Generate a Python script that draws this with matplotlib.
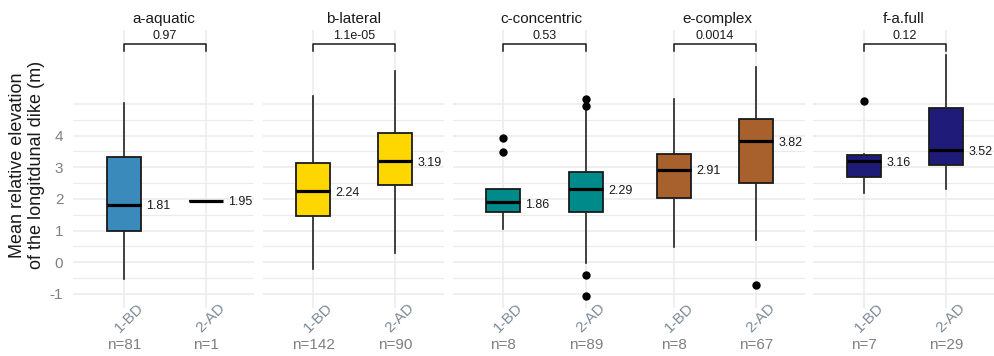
import matplotlib
matplotlib.use('Agg')
import matplotlib.pyplot as plt
import matplotlib.transforms as mtransforms

plt.rcParams['font.family'] = ['Liberation Sans', 'DejaVu Sans']

# data
panels = ['a-aquatic', 'b-lateral', 'c-concentric', 'e-complex', 'f-a.full']
groups = ['1-BD', '2-AD']
p_values = ['0.97', '1.1e-05', '0.53', '0.0014', '0.12']
n_counts = [[81, 1], [142, 90], [8, 89], [8, 67], [7, 29]]
colors = ['#3a8bbb', '#ffd700', '#008b8b', '#a8602c', '#1f1b78']

whislo = [[-0.54, 1.95], [-0.22, 0.28], [1.04, -0.03], [0.49, 0.70], [2.20, 2.30]]
q1 = [[0.99, 1.95], [1.47, 2.43], [1.60, 1.60], [2.04, 2.51], [2.70, 3.06]]
med = [[1.81, 1.95], [2.25, 3.19], [1.89, 2.32], [2.91, 3.83], [3.20, 3.55]]
q3 = [[3.33, 1.95], [3.13, 4.07], [2.30, 2.85], [3.42, 4.53], [3.38, 4.88]]
whishi = [[5.02, 1.95], [5.26, 6.04], [2.30, 4.80], [5.16, 6.18], [3.41, 6.54]]
fliers = [[[], []], [[], []], [[3.93, 3.48], [5.15, 4.92, -0.41, -1.06]],
          [[], [-0.72]], [[5.08], []]]
mean_labels = [[1.81, 1.95], [2.24, 3.19], [1.86, 2.29], [2.91, 3.82], [3.16, 3.52]]

# layout in pixels: (left, right, x of 1-BD, x of 2-AD)
W, H = 994, 356
panel_px = [(73, 254, 124, 206), (263, 444, 313, 395), (453, 630, 503, 586),
            (630, 805, 674, 756), (813, 994, 864, 946)]
top_px, bot_px = 30, 308
ylim = (-1.443, 7.335)
bracket_y, bracket_tick = 6.89, 0.22

fig = plt.figure(figsize=(W / 100, H / 100), dpi=100)

for i, name in enumerate(panels):
    L, R, x1, x2 = panel_px[i]
    ax = fig.add_axes([L / W, 1 - bot_px / H, (R - L) / W, (bot_px - top_px) / H])
    ax.patch.set_visible(False)
    s = x2 - x1
    ax.set_xlim(1 - (x1 - L) / s, 2 + (R - x2) / s)
    ax.set_ylim(*ylim)

    for sp in ax.spines.values():
        sp.set_visible(False)

    # grid
    for x in [1, 2]:
        ax.axvline(x, color='#ebebeb', lw=1.1, zorder=0)
    for k in range(-2, 11):
        y = k / 2
        ax.axhline(y, color='#ebebeb', lw=1.1 if k % 2 == 0 else 0.8, zorder=0)

    stats = []
    for j in range(2):
        stats.append(dict(med=med[i][j], q1=q1[i][j], q3=q3[i][j],
                          whislo=whislo[i][j], whishi=whishi[i][j],
                          fliers=fliers[i][j]))
    ax.bxp(stats, positions=[1, 2], widths=0.42, showcaps=False,
           patch_artist=True,
           boxprops=dict(facecolor=colors[i], edgecolor='#1a1a1a', lw=1.3),
           medianprops=dict(color='black', lw=2.3),
           whiskerprops=dict(color='#222222', lw=1.2),
           flierprops=dict(marker='o', markerfacecolor='black',
                           markeredgecolor='black', markersize=5))

    for j in range(2):
        ax.text(j + 1 + 0.27, mean_labels[i][j] - 0.04, '%.2f' % mean_labels[i][j],
                ha='left', va='center', fontsize=9, color='#1a1a1a',
                clip_on=False, zorder=5)

    # significance bracket
    ax.plot([1, 1, 2, 2], [bracket_y - bracket_tick, bracket_y, bracket_y,
                           bracket_y - bracket_tick], color='#1a1a1a', lw=1.1)
    ax.text(1.5, bracket_y + 0.06, p_values[i], ha='center', va='bottom',
            fontsize=9, color='#1a1a1a')

    ax.text(0.5, 1.04, name, transform=ax.transAxes, ha='center', va='center',
            fontsize=11, color='#1a1a1a')

    # x labels
    ax.set_xticks([1, 2])
    ax.set_xticklabels([])
    trans = mtransforms.blended_transform_factory(ax.transData, ax.transAxes)
    for j in range(2):
        ax.text(j + 1 + 0.06, -0.036, groups[j], transform=trans, rotation=45,
                ha='center', va='center', fontsize=11, color='#7d8a98')
        ax.text(j + 1, -0.133, 'n=%d' % n_counts[i][j], transform=trans,
                ha='center', va='center', fontsize=11, color='#808080')

    ax.set_yticks(range(-1, 6))
    if i == 0:
        ax.set_yticklabels(['-1', '0', '1', '2', '3', '4', ''])
    else:
        ax.set_yticklabels([])
    ax.tick_params(length=0, labelsize=11, labelcolor='#808080', pad=7)

fig.text(27 / W, 1 - 165 / H, 'Mean relative elevation\nof the longitdunal dike (m)',
         rotation=90, ha='center', va='center', fontsize=13, color='#1a1a1a',
         multialignment='center')

fig.savefig('out.png', dpi=100)
